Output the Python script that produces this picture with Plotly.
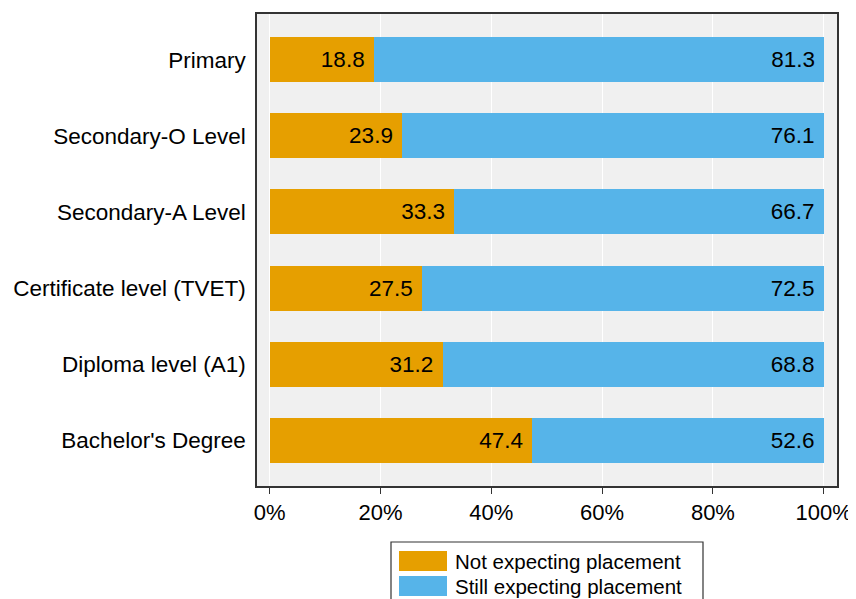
import plotly.graph_objects as go

categories = ["Primary", "Secondary-O Level", "Secondary-A Level",
              "Certificate level (TVET)", "Diploma level (A1)", "Bachelor's Degree"]
not_expecting = [18.8, 23.9, 33.3, 27.5, 31.2, 47.4]
still_expecting = [81.3, 76.1, 66.7, 72.5, 68.8, 52.6]
tick_vals = [0, 20, 40, 60, 80, 100]
tick_text = ["0%", "20%", "40%", "60%", "80%", "100%"]

orange = "#E69F00"
blue = "#56B4E9"
font = "Liberation Sans, Arial, sans-serif"

fig = go.Figure()
for name, vals, col in [("Not expecting placement", not_expecting, orange),
                        ("Still expecting placement", still_expecting, blue)]:
    fig.add_trace(go.Bar(
        y=categories, x=vals, name=name, orientation="h",
        marker=dict(color=col, line=dict(width=0)),
        width=0.59,
        text=[f"{v:.1f}&nbsp;" for v in vals],
        textposition="inside", insidetextanchor="end",
        textfont=dict(color="black", size=22.5, family=font),
        textangle=0, constraintext="none",
        showlegend=False,
    ))

# page body adds ~8px offset, so the figure is a bit smaller
fig.update_layout(
    barmode="stack",
    width=848, height=591,
    margin=dict(l=249, r=19, t=6, b=113),
    plot_bgcolor="#F0F0F0",
    paper_bgcolor="white",
    font=dict(family=font, size=22.5, color="black"),
)
fig.update_xaxes(
    range=[-2.3, 102.4], tickvals=tick_vals, ticktext=tick_text,
    showgrid=True, gridcolor="white", gridwidth=1, zeroline=False,
    showline=True, linecolor="#333", linewidth=1.5, mirror=True,
    ticks="outside", ticklen=6, tickcolor="#333",
    tickfont=dict(size=22), automargin=False,
)
fig.update_yaxes(
    autorange=False, range=[5.6, -0.6],
    showgrid=False, zeroline=False,
    showline=True, linecolor="#333", linewidth=1.5, mirror=True,
    ticks="", ticklabelstandoff=5,
    tickfont=dict(size=22.5), automargin=False,
)

# legend drawn in a bordered box below the plot (screen pixel positions)
W, H, L, T = 580.0, 472.0, 257.0, 14.0
def px(x):
    return (x - L) / W
def py(y):
    return (T + H - y) / H

fig.add_shape(type="rect", xref="paper", yref="paper",
              x0=px(391), x1=px(703), y0=py(542), y1=py(610),
              line=dict(color="#333", width=1.2), fillcolor="white")
legend_items = [("Not expecting placement", orange, 551, 571),
                ("Still expecting placement", blue, 576, 596)]
for label, col, ytop, ybot in legend_items:
    fig.add_shape(type="rect", xref="paper", yref="paper",
                  x0=px(399), x1=px(447), y0=py(ybot), y1=py(ytop),
                  line=dict(width=0), fillcolor=col)
    fig.add_annotation(xref="paper", yref="paper", x=px(453), y=py((ytop + ybot) / 2),
                       text=label, showarrow=False, xanchor="left", yanchor="middle",
                       font=dict(size=20.5, color="black", family=font))

fig.write_html("out.html")
